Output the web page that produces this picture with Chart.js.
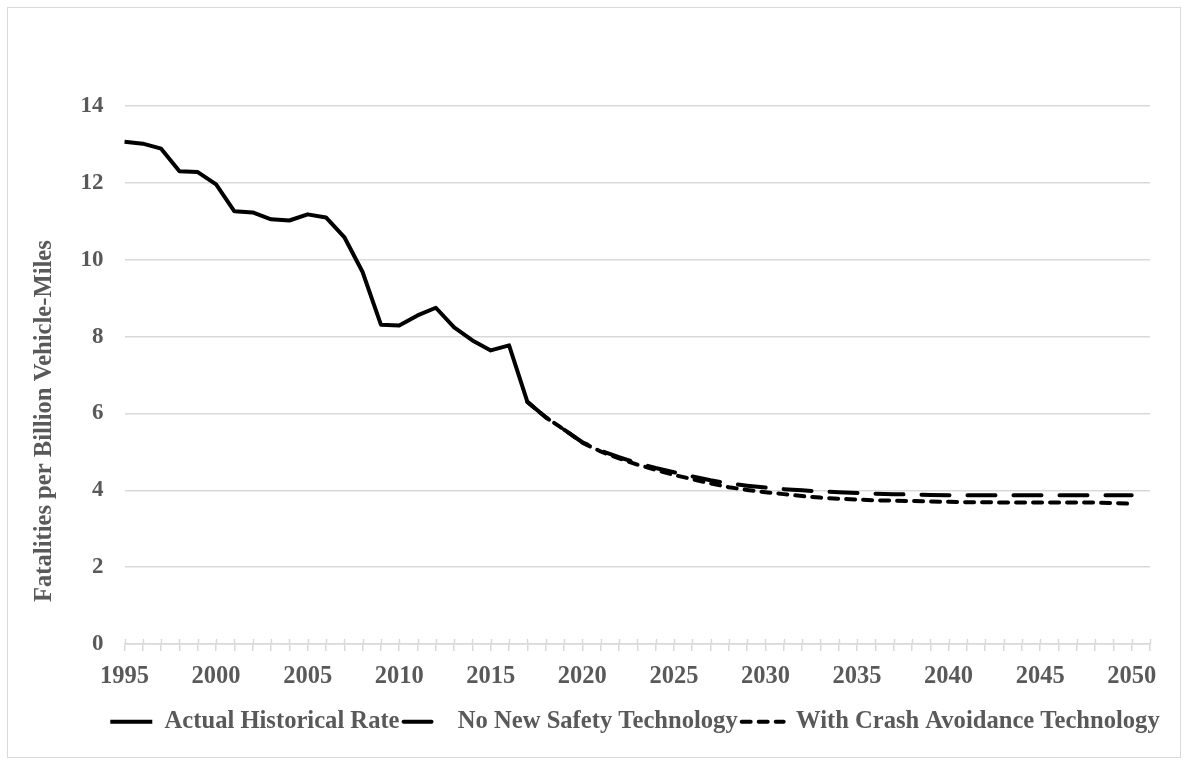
<!DOCTYPE html>
<html>
<head>
<meta charset="utf-8">
<script src="https://cdn.jsdelivr.net/npm/chart.js@4/dist/chart.umd.min.js"></script>
<style>
  html, body { margin: 0; padding: 0; background: #ffffff; }
  #frame { position: absolute; left: 7px; top: 7px; width: 1172px; height: 749px; border: 1px solid #d9d9d9; }
  #c { position: absolute; left: 0; top: 0; }
</style>
</head>
<body>
<div id="frame"></div>
<canvas id="c" width="1187" height="763"></canvas>
<script>
// ---- Data ----
const years = [1995,1996,1997,1998,1999,2000,2001,2002,2003,2004,2005,2006,2007,2008,2009,2010,
  2011,2012,2013,2014,2015,2016,2017,2018,2019,2020,2021,2022,2023,2024,2025,2026,2027,2028,2029,2030,
  2031,2032,2033,2034,2035,2036,2037,2038,2039,2040,2041,2042,2043,2044,2045,2046,2047,2048,2049,2050];

// Actual Historical Rate, 1995-2017
const historicalRate = [13.07,13.02,12.89,12.30,12.28,11.96,11.26,11.23,11.05,11.02,11.18,11.10,
  10.59,9.68,8.31,8.29,8.55,8.75,8.24,7.90,7.64,7.77,6.30];

// Projections, 2017-2050
const projectionStart = 2017;
const noNewSafetyTech = [6.30,5.90,5.58,5.25,5.03,4.86,4.71,4.58,4.47,4.36,4.26,4.18,4.12,4.07,
  4.03,4.00,3.97,3.95,3.93,3.91,3.90,3.89,3.88,3.87,3.87,3.87,3.87,3.87,3.87,3.87,3.87,3.87,3.87,3.87];
const withCrashAvoidance = [6.30,5.90,5.58,5.24,5.01,4.83,4.67,4.53,4.40,4.29,4.18,4.08,4.01,3.95,
  3.90,3.85,3.81,3.78,3.76,3.74,3.73,3.72,3.71,3.70,3.69,3.69,3.68,3.68,3.68,3.68,3.68,3.68,3.67,3.65];

const seriesNames = ['Actual Historical Rate', 'No New Safety Technology', 'With Crash Avoidance Technology'];
const yTicks = [0, 2, 4, 6, 8, 10, 12, 14];
const yTitle = 'Fatalities per Billion Vehicle-Miles';

// ---- Build chart structures ----
// one extra empty category after 2050 (the reference axis runs one step past the last point)
const labels = years.map(String).concat(['']);
const n = labels.length;
function alignSeries(values, startYear) {
  const out = new Array(n).fill(null);
  const off = years.indexOf(startYear);
  values.forEach((v, i) => { out[off + i] = v; });
  return out;
}

const FONT = '"Liberation Serif", "Times New Roman", Times, serif';
const GREY = '#595959';
const AXIS_GREY = '#d9d9d9';
const LEGEND_SHIFT = 55;

const legendShift = {
  id: 'legendShift',
  afterLayout(chart) {
    if (chart.legend) { chart.legend.left += LEGEND_SHIFT; chart.legend.right += LEGEND_SHIFT; }
  }
};

// tick marks that cross the category axis (small part above the axis line)
const crossTicks = {
  id: 'crossTicks',
  beforeDatasetsDraw(chart) {
    const xs = chart.scales.x;
    const ctx = chart.ctx;
    ctx.save();
    ctx.strokeStyle = AXIS_GREY;
    ctx.lineWidth = 1.5;
    ctx.beginPath();
    xs.ticks.forEach((t, i) => {
      const px = Math.round(xs.getPixelForTick(i)) + 0.5;
      ctx.moveTo(px, xs.top - 5);
      ctx.lineTo(px, xs.top);
    });
    ctx.stroke();
    ctx.restore();
  }
};

new Chart(document.getElementById('c'), {
  type: 'line',
  data: {
    labels: labels,
    datasets: [
      {
        label: seriesNames[0],
        data: alignSeries(historicalRate, 1995),
        borderColor: '#000000', backgroundColor: '#000000',
        borderWidth: 4, pointRadius: 0, tension: 0,
        borderJoinStyle: 'round', borderCapStyle: 'butt', spanGaps: false
      },
      {
        label: seriesNames[1],
        data: alignSeries(noNewSafetyTech, projectionStart),
        borderColor: '#000000', backgroundColor: '#000000',
        borderWidth: 4, pointRadius: 0, tension: 0,
        borderDash: [28, 18], borderCapStyle: 'round', borderJoinStyle: 'round'
      },
      {
        label: seriesNames[2],
        data: alignSeries(withCrashAvoidance, projectionStart),
        borderColor: '#000000', backgroundColor: '#000000',
        borderWidth: 4, pointRadius: 0, tension: 0,
        borderDash: [9, 8], borderCapStyle: 'round', borderJoinStyle: 'round'
      }
    ]
  },
  options: {
    responsive: false,
    animation: false,
    devicePixelRatio: 1,
    layout: { padding: { left: 10, right: 37, top: 106, bottom: 19 } },
    plugins: {
      tooltip: { enabled: false },
      legend: {
        position: 'bottom',
        labels: {
          usePointStyle: true,
          pointStyle: 'line',
          pointStyleWidth: 42,
          padding: 4,
          color: GREY,
          font: { family: FONT, size: 24.6, weight: 'bold' },
          generateLabels: function (chart) {
            const items = Chart.defaults.plugins.legend.labels.generateLabels(chart);
            items.forEach((it) => {
              const ds = chart.data.datasets[it.datasetIndex];
              it.lineDash = ds.borderDash || [];
              it.lineDashOffset = 0;
              it.lineWidth = ds.borderWidth;
              it.lineCap = ds.borderCapStyle || 'butt';
              it.strokeStyle = ds.borderColor;
              it.fillStyle = ds.borderColor;
              it.pointStyle = 'line';
            });
            return items;
          }
        }
      }
    },
    scales: {
      x: {
        type: 'category',
        offset: false,
        border: { display: true, color: AXIS_GREY, width: 1.5 },
        grid: { display: true, drawOnChartArea: false, drawTicks: true, tickLength: 7, color: AXIS_GREY, lineWidth: 1.5 },
        ticks: {
          autoSkip: false,
          maxRotation: 0,
          padding: 10.5,
          color: GREY,
          font: { family: FONT, size: 24.5, weight: 'bold' },
          callback: function (value, index) {
            const y = years[index];
            return (y !== undefined && y % 5 === 0) ? String(y) : '';
          }
        },
        afterFit: function (scale) { scale.height += 4; }
      },
      y: {
        min: yTicks[0],
        max: yTicks[yTicks.length - 1],
        border: { display: false },
        grid: { color: AXIS_GREY, lineWidth: 1.5, drawTicks: false },
        ticks: {
          stepSize: 2,
          padding: 21,
          color: GREY,
          font: { family: FONT, size: 23, weight: 'bold' }
        },
        afterBuildTicks: function (scale) { scale.ticks = yTicks.map(v => ({ value: v })); },
        title: {
          display: true,
          text: yTitle + '               ',
          color: GREY,
          padding: { top: 20, bottom: 0 },
          font: { family: FONT, size: 24.6, weight: 'bold' }
        }
      }
    }
  },
  plugins: [legendShift, crossTicks]
});
</script>
</body>
</html>
